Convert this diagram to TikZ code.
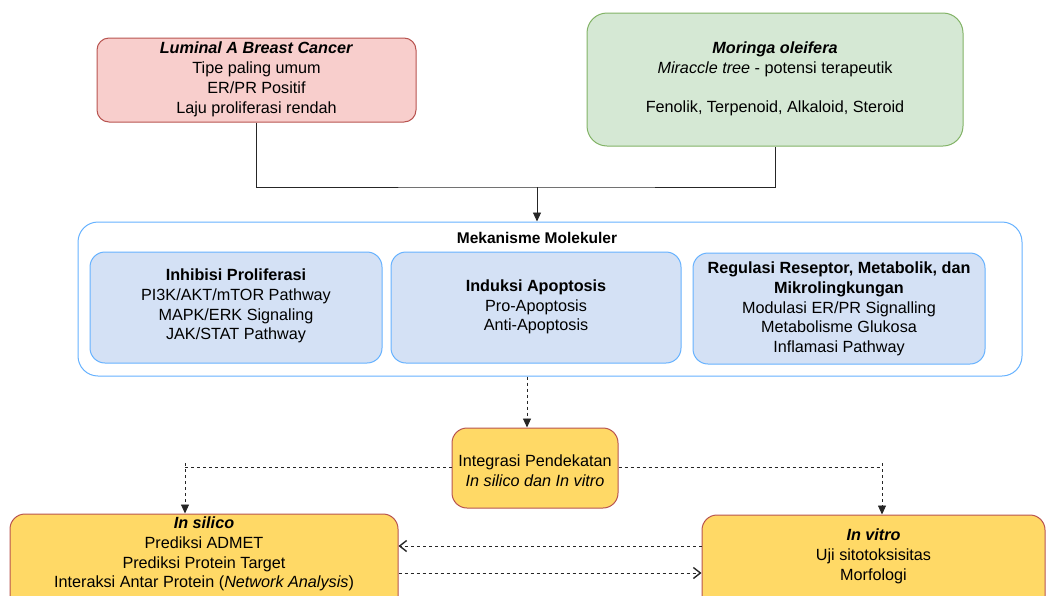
\documentclass[tikz,border=0pt]{standalone}
\usepackage{fontspec}
\setmainfont{Liberation Sans}
\usetikzlibrary{arrows.meta,positioning}
\definecolor{pinkfill}{HTML}{F8CECC}
\definecolor{pinkline}{HTML}{B85450}
\definecolor{greenfill}{HTML}{D5E8D4}
\definecolor{greenline}{HTML}{82B366}
\definecolor{blueline}{HTML}{66B2FF}
\definecolor{bluefill}{HTML}{D4E1F5}
\definecolor{yellowfill}{HTML}{FFD966}
\tikzset{
  box/.style={draw, rounded corners=#1, line width=1pt, align=center, inner sep=0pt},
  box/.default=12pt,
  txt/.style={align=center, font=\fontsize{16.2}{19.8}\selectfont, inner sep=0pt},
  conn/.style={line width=0.9pt, draw=black!85},
  dconn/.style={conn, dash pattern=on 3pt off 3pt},
  tip/.style={-{Triangle[length=9pt,width=8pt]}},
  tipo/.style={-{Straight Barb[length=7pt,width=11pt,line width=1.4pt]}},
}
\begin{document}
\begin{tikzpicture}[x=1pt,y=-1pt]
\useasboundingbox (0,0) rectangle (1048,595);
\clip (0,0) rectangle (1048,595);
% top boxes
\node[box=12pt, fill=pinkfill, draw=pinkline, minimum width=319pt, minimum height=84pt] (lum) at (256.5,80) {};
\node[txt] (lumtxt) at (256.5,79.5) {\textbf{\textit{Luminal A Breast Cancer}}\\Tipe paling umum\\ER/PR Positif\\Laju proliferasi rendah};
\node[box=20pt, fill=greenfill, draw=greenline, minimum width=376pt, minimum height=133pt] (mor) at (775,79.5) {};
\node[txt] (mortxt) at (775,79) {\textbf{\textit{Moringa oleifera}}\\\textit{Miraccle tree} - potensi terapeutik\\[19.5pt]Fenolik, Terpenoid, Alkaloid, Steroid};
% container
\node[box=20pt, fill=white, draw=blueline, minimum width=944pt, minimum height=154pt] (mek) at (550,299) {};
\node[txt, font=\bfseries\fontsize{15.5}{18}\selectfont] (mektxt) at (537,238) {Mekanisme Molekuler};
\node[box=15pt, fill=bluefill, draw=blueline, minimum width=292pt, minimum height=111pt] (b1) at (236,307.5) {};
\node[txt] (b1t) at (236,306) {\textbf{Inhibisi Proliferasi}\\PI3K/AKT/mTOR Pathway\\MAPK/ERK Signaling\\JAK/STAT Pathway};
\node[box=15pt, fill=bluefill, draw=blueline, minimum width=290pt, minimum height=111pt] (b2) at (536,307.5) {};
\node[txt] (b2t) at (536,307) {\textbf{Induksi Apoptosis}\\Pro-Apoptosis\\Anti-Apoptosis};
\node[box=15pt, fill=bluefill, draw=blueline, minimum width=292pt, minimum height=111pt] (b3) at (839,308.5) {};
\node[txt] (b3t) at (839,309) {\textbf{Regulasi Reseptor, Metabolik, dan}\\\textbf{Mikrolingkungan}\\Modulasi ER/PR Signalling\\Metabolisme Glukosa\\Inflamasi Pathway};
% integration
\node[box=15pt, fill=yellowfill, draw=pinkline, minimum width=166pt, minimum height=80pt] (int) at (535,468) {};
\node[txt] (intt) at (535,470.5) {Integrasi Pendekatan\\\textit{In silico dan In vitro}};
% bottom boxes
\node[box=15pt, fill=yellowfill, draw=pinkline, minimum width=388pt, minimum height=110pt] (sil) at (204,569) {};
\node[txt] (silt) at (204,554) {\textbf{\textit{In silico}}\\Prediksi ADMET\\Prediksi Protein Target\\Interaksi Antar Protein (\textit{Network Analysis})};
\node[box=15pt, fill=yellowfill, draw=pinkline, minimum width=343pt, minimum height=110pt] (vit) at (873.5,570) {};
\node[txt] (vitt) at (873.5,556.5) {\textbf{\textit{In vitro}}\\Uji sitotoksisitas\\Morfologi};
% connectors
\coordinate (j) at (537,187);
\coordinate (mx) at (527,0);
\coordinate (lc) at (185,467);
\coordinate (lt) at (185,463);
\coordinate (rc) at (882,467);
\coordinate (rt) at (882,463);
\coordinate (ya) at (0,546);
\coordinate (yb) at (0,573);
\draw[conn] (lum.south) |- (j) -| (mor.south);
\draw[conn, tip] (j) -- (j |- mek.north);
\draw[dconn, tip] (mx |- mek.south) -- (mx |- int.north);
\draw[dconn] (int.west |- lc) -- (lc);
\draw[dconn, tip] (lt) -- (lt |- sil.north);
\draw[dconn] (int.east |- rc) -- (rc);
\draw[dconn, tip] (rt) -- (rt |- vit.north);
\draw[dconn, tipo] (vit.west |- ya) -- (sil.east |- ya);
\draw[dconn, tipo] (sil.east |- yb) -- (vit.west |- yb);
\end{tikzpicture}
\end{document}
